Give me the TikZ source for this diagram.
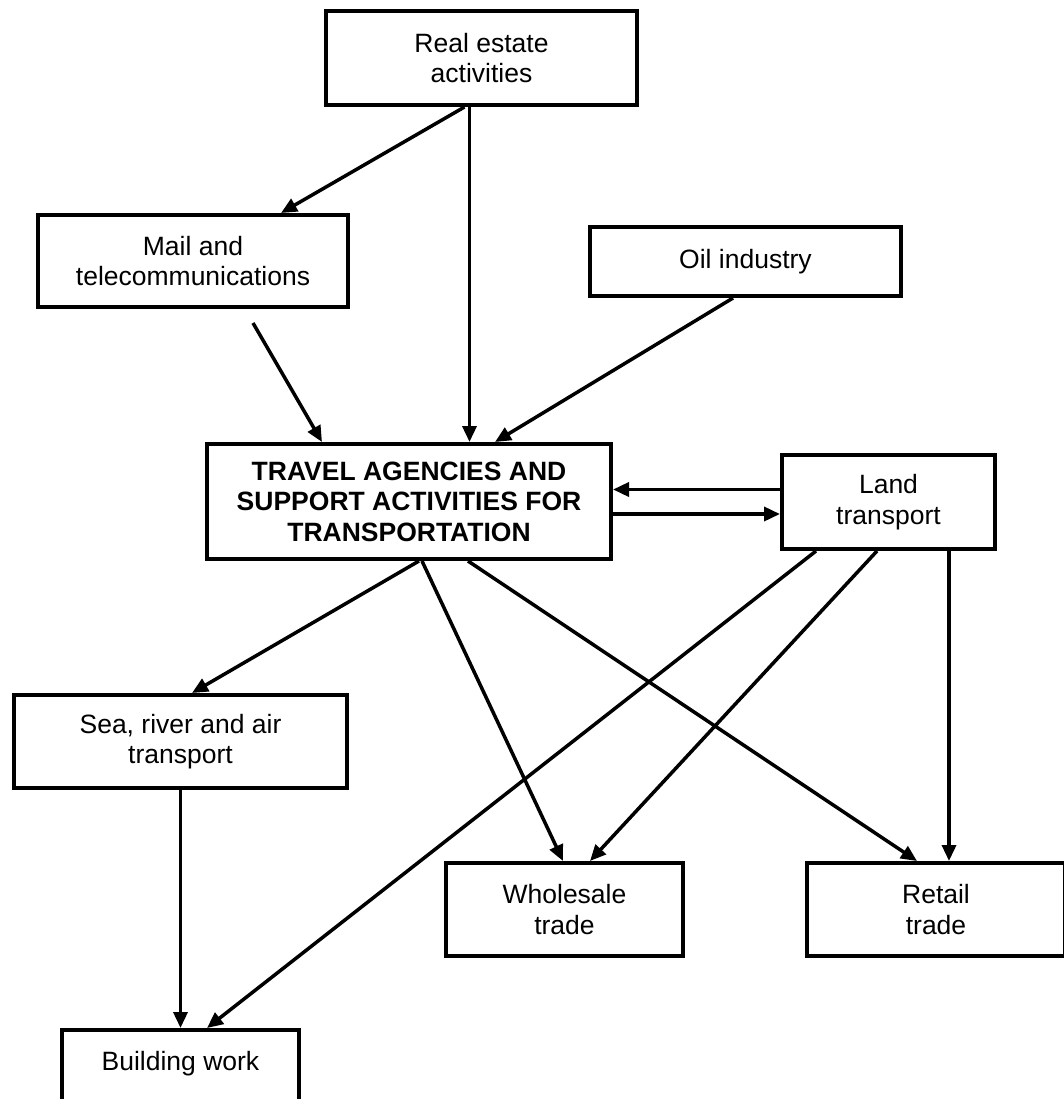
\documentclass[tikz,border=0pt]{standalone}
\usepackage{fontspec}
\setmainfont{Liberation Sans}
\usetikzlibrary{arrows.meta}

\begin{document}
\begin{tikzpicture}[x=1pt,y=-1pt,
    sector/.style={draw, line width=4pt, align=center, inner sep=2pt,
        font=\fontsize{26.5}{30.5}\selectfont},
    link/.style={line width=3.5pt, -{Triangle[length=16pt,width=14pt]}}]
    \useasboundingbox (0,0) rectangle (1063,1099);

    % Upper row
    \node[sector, minimum width=311pt, minimum height=94pt] (realestate) at (481.5,58) {Real estate\\activities};
    \node[sector, minimum width=310pt, minimum height=92pt] (mail) at (193,261) {Mail and\\telecommunications};
    \node[sector, minimum width=311pt, minimum height=69pt] (oil) at (745.5,261.5) {Oil industry};

    % Central sector
    \node[sector, font=\fontsize{26.5}{30.5}\selectfont\bfseries, minimum width=404pt, minimum height=115pt] (travel) at (409,501.5)
        {TRAVEL AGENCIES AND\\SUPPORT ACTIVITIES FOR\\TRANSPORTATION};
    \node[sector, minimum width=213pt, minimum height=94pt] (land) at (888.5,502) {Land\\transport};

    % Lower rows
    \node[sector, minimum width=333pt, minimum height=93pt] (sea) at (180.5,741.5) {Sea, river and air\\transport};
    \node[sector, minimum width=237pt, minimum height=93pt] (wholesale) at (564.5,909.5) {Wholesale\\trade};
    \node[sector, minimum width=258pt, minimum height=93pt] (retail) at (936,909.5) {Retail\\trade};
    \node[sector, minimum width=237pt, minimum height=93pt] (building) at (180.5,1076.5) {Building work\\~};

    % Into the central sector
    \draw[link] ([xshift=-17pt]realestate.south) -- ([xshift=88pt]mail.north);
    \draw[link] ([xshift=-12pt]realestate.south) -- ([xshift=-12pt]realestate.south |- travel.north);
    \draw[link] ([xshift=60pt,yshift=-14pt]mail.south) -- ([xshift=-87pt]travel.north);
    \draw[link] ([xshift=-12.5pt]oil.south) -- ([xshift=86pt]travel.north);

    % Both ways with land transport
    \draw[link] ([yshift=12.5pt]land.west) -- ([yshift=12.5pt]land.west -| travel.east);
    \draw[link] ([yshift=-12.5pt]travel.east) -- ([yshift=-12.5pt]travel.east -| land.west);

    % Out of the central sector
    \draw[link] ([xshift=10pt]travel.south) -- ([xshift=11.5pt]sea.north);
    \draw[link] ([xshift=13pt]travel.south) -- ([xshift=-1.5pt]wholesale.north);
    \draw[link] ([xshift=59pt]travel.south) -- ([xshift=-19pt]retail.north);

    % Out of land transport
    \draw[link] ([xshift=-72.5pt]land.south) -- ([xshift=26.5pt]building.north);
    \draw[link] ([xshift=-11.5pt]land.south) -- ([xshift=25.5pt]wholesale.north);
    \draw[link] ([xshift=60.5pt]land.south) -- ([xshift=60.5pt]land.south |- retail.north);

    % Sea to building work
    \draw[link] (sea.south) -- (building.north);
\end{tikzpicture}
\end{document}
